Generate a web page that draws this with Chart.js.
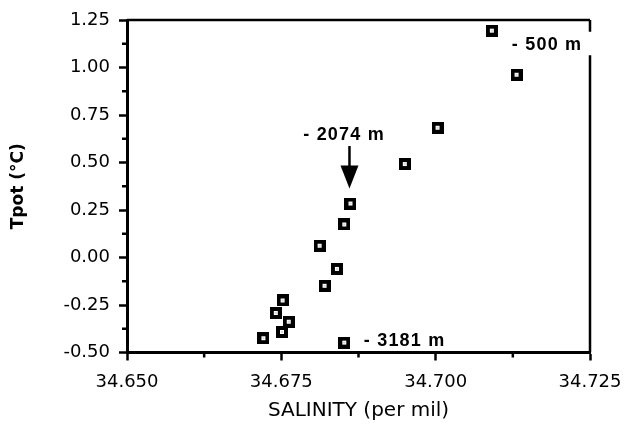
<!DOCTYPE html>
<html>
<head>
<meta charset="utf-8">
<script src="https://cdn.jsdelivr.net/npm/chart.js@4"></script>
<style>
  html, body { margin: 0; padding: 0; background: #fff; }
  #wrap { width: 627px; height: 426px; }
</style>
</head>
<body>
<div id="wrap"><canvas id="c" width="627" height="426"></canvas></div>
<script>
// Potential temperature vs salinity, one station profile
const salinity = [34.7091, 34.7131, 34.7003, 34.6950, 34.6862, 34.6852, 34.6812, 34.6840,
                  34.6820, 34.6752, 34.6741, 34.6762, 34.6751, 34.6721, 34.6852];
const tpot     = [1.194, 0.962, 0.683, 0.492, 0.284, 0.174, 0.062, -0.060,
                  -0.149, -0.226, -0.292, -0.338, -0.392, -0.425, -0.448];
const xTicks = [34.650, 34.675, 34.700, 34.725];
const yTicks = [-0.50, -0.25, 0.00, 0.25, 0.50, 0.75, 1.00, 1.25];
const xMinor = [34.6625, 34.6875, 34.7125];
const yMinor = [-0.375, -0.125, 0.125, 0.375, 0.625, 0.875, 1.125];
const depthLabels = ['- 500 m', '- 2074 m', '- 3181 m'];
const depthIndex  = [0, 4, 14];

const TICK_FONT = { family: "'DejaVu Sans', sans-serif", size: 18, weight: 'normal' };
const NOTE_FONT = "bold 18px 'Liberation Sans', Arial, sans-serif";
const NOTE_SPACING = 1.2;

// boxed marker: heavy black square with a small white core and a dot in the middle
function makeMarker() {
  const c = document.createElement('canvas');
  c.width = 12; c.height = 12;
  const g = c.getContext('2d');
  g.fillStyle = '#000'; g.fillRect(0, 0, 12, 12);
  g.fillStyle = '#fff'; g.fillRect(4, 4, 4, 4);
  g.fillStyle = '#666'; g.fillRect(5.5, 5.5, 1, 1);
  return c;
}
const marker = makeMarker();

// frame, minor ticks, depth notes and the arrow
const decorations = {
  id: 'decorations',
  afterDraw(chart) {
    const { ctx, chartArea: a, scales: { x, y } } = chart;
    const meta = chart.getDatasetMeta(0);
    const pt = i => meta.data[i];
    ctx.save();
    ctx.strokeStyle = '#000';
    ctx.fillStyle = '#000';

    // minor ticks
    ctx.lineWidth = 2.5;
    ctx.beginPath();
    xMinor.forEach(v => { const px = x.getPixelForValue(v); ctx.moveTo(px, a.bottom); ctx.lineTo(px, a.bottom + 5); });
    yMinor.forEach(v => { const py = y.getPixelForValue(v); ctx.moveTo(a.left, py); ctx.lineTo(a.left - 5, py); });
    ctx.stroke();

    // depth notes
    ctx.font = NOTE_FONT;
    ctx.letterSpacing = NOTE_SPACING + 'px';
    ctx.textBaseline = 'alphabetic';
    ctx.textAlign = 'left';

    const p0 = pt(depthIndex[0]);
    const t0x = p0.x + 20, t0y = p0.y + 19;
    ctx.fillText(depthLabels[0], t0x, t0y);

    const p1 = pt(depthIndex[1]);
    const w1 = ctx.measureText(depthLabels[1]).width - NOTE_SPACING;
    ctx.fillText(depthLabels[1], p1.x - 7 - w1 / 2, p1.y - 63.5);

    const p2 = pt(depthIndex[2]);
    ctx.fillText(depthLabels[2], p2.x + 19.5, p2.y + 3.5);

    // arrow pointing at the 2074 m sample
    const ax = p1.x - 1;
    ctx.lineWidth = 2.5;
    ctx.beginPath();
    ctx.moveTo(ax, p1.y - 57.5);
    ctx.lineTo(ax, p1.y - 36);
    ctx.stroke();
    ctx.beginPath();
    ctx.moveTo(ax - 9, p1.y - 38);
    ctx.lineTo(ax + 9, p1.y - 38);
    ctx.lineTo(ax, p1.y - 15);
    ctx.closePath();
    ctx.fill();

    // top and right frame lines, right line broken beside the 500 m note
    ctx.lineWidth = 2.5;
    ctx.beginPath();
    ctx.moveTo(a.left, a.top);
    ctx.lineTo(a.right, a.top);
    ctx.moveTo(a.right, a.top);
    ctx.lineTo(a.right, t0y - 18);
    ctx.moveTo(a.right, t0y + 5.5);
    ctx.lineTo(a.right, a.bottom);
    ctx.stroke();
    ctx.restore();
  }
};

new Chart(document.getElementById('c'), {
  type: 'scatter',
  data: {
    datasets: [{
      data: salinity.map((s, i) => ({ x: s, y: tpot[i] })),
      pointStyle: marker,
      pointRadius: 6,
      pointHoverRadius: 6
    }]
  },
  options: {
    responsive: false,
    animation: false,
    events: [],
    layout: { padding: { top: 20, right: 37, bottom: 0, left: 0 } },
    plugins: { legend: { display: false }, tooltip: { enabled: false } },
    scales: {
      x: {
        type: 'linear',
        min: 34.650,
        max: 34.725,
        afterBuildTicks: s => { s.ticks = xTicks.map(v => ({ value: v })); },
        afterFit: s => { s.height = 73.5; s.paddingLeft = 0; s.paddingRight = 0; },
        border: { display: true, width: 3, color: '#000' },
        grid: { drawOnChartArea: false, drawTicks: true, tickLength: 8, tickWidth: 2.5, tickColor: '#000' },
        ticks: { color: '#000', font: TICK_FONT, padding: 11, maxRotation: 0, callback: v => Number(v).toFixed(3) },
        title: { display: true, text: 'SALINITY (per mil)', color: '#000',
                 font: { family: "'DejaVu Sans', sans-serif", size: 20, weight: 'normal' },
                 padding: { top: 0, bottom: 3 } }
      },
      y: {
        type: 'linear',
        min: -0.5,
        max: 1.25,
        afterBuildTicks: s => { s.ticks = yTicks.map(v => ({ value: v })); },
        afterFit: s => { s.width = 127; s.paddingTop = 0; s.paddingBottom = 0; },
        border: { display: true, width: 3, color: '#000' },
        grid: { drawOnChartArea: false, drawTicks: true, tickLength: 8, tickWidth: 2.5, tickColor: '#000' },
        ticks: { color: '#000', font: TICK_FONT, padding: 9, callback: v => Number(v).toFixed(2) },
        title: { display: true, text: 'Tpot (°C)', color: '#000',
                 font: { family: "'DejaVu Sans', sans-serif", size: 17, weight: 'bold' },
                 padding: { top: 8, bottom: 0 } }
      }
    }
  },
  plugins: [decorations]
});
</script>
</body>
</html>
